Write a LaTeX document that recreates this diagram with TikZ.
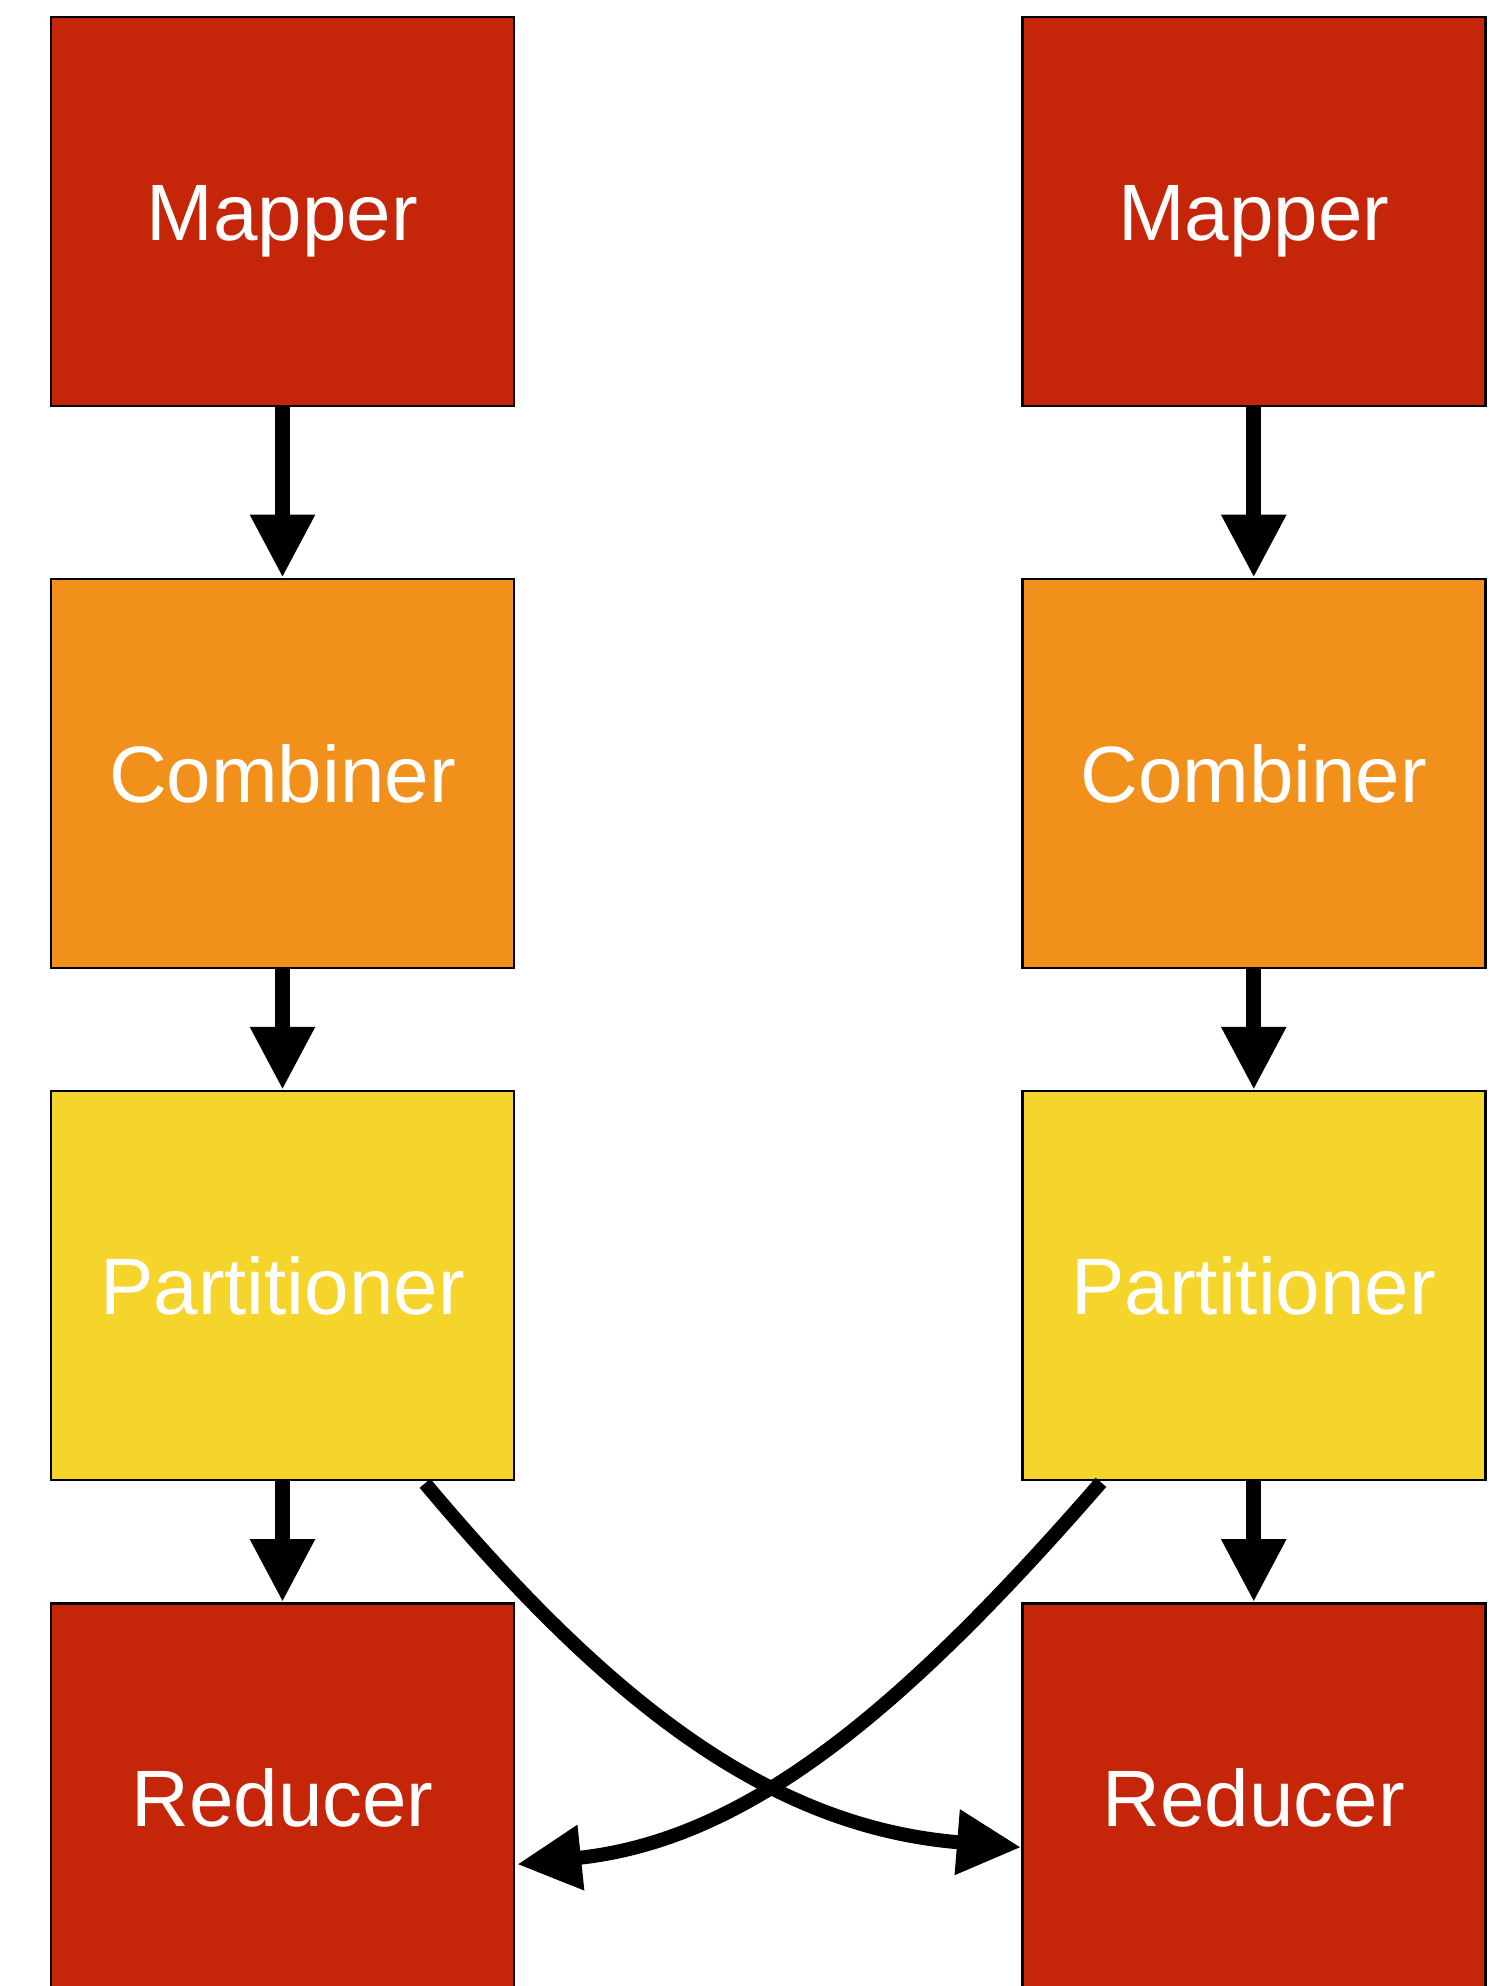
\documentclass[tikz,border=0pt]{standalone}
\usepackage{fontspec}
\setmainfont{Liberation Sans}
\usetikzlibrary{arrows.meta,calc}

\definecolor{mapred}{RGB}{197,37,8}
\definecolor{combineorange}{RGB}{242,144,28}
\definecolor{partyellow}{RGB}{245,212,44}

\tikzset{
  stage/.style={draw=black, line width=2.5pt, minimum width=463pt,
    minimum height=389pt, inner sep=0pt, text=white,
    font=\fontsize{80}{92}\selectfont, text height=57.3pt, text depth=0pt},
  flow/.style={line width=15pt, -{Triangle[length=63pt,width=61pt]}},
  shuffle/.style={line width=14pt, -{Triangle[length=64pt,width=62pt]}}
}

\begin{document}
\begin{tikzpicture}[x=1pt,y=1pt]
  \useasboundingbox (0,0) rectangle (1490,-1986);
  \clip (0,0) rectangle (1490,-1986);

  % left pipeline
  \node[stage, fill=mapred]         (mL) at (282.5,-211.45)  {Mapper};
  \node[stage, fill=combineorange]  (cL) at (282.5,-773.35)  {Combiner};
  \node[stage, fill=partyellow]     (pL) at (282.5,-1285.55) {Partitioner};
  \node[stage, fill=mapred]         (rL) at (282.5,-1797.8)  {Reducer};

  % right pipeline
  \node[stage, fill=mapred]         (mR) at (1253.75,-211.45)  {Mapper};
  \node[stage, fill=combineorange]  (cR) at (1253.75,-773.35)  {Combiner};
  \node[stage, fill=partyellow]     (pR) at (1253.75,-1285.55) {Partitioner};
  \node[stage, fill=mapred]         (rR) at (1253.75,-1797.8)  {Reducer};

  % straight hand-offs within each pipeline
  \draw[flow] (mL.south) -- (cL.north);
  \draw[flow] (cL.south) -- (pL.north);
  \draw[flow] (pL.south) -- (rL.north);
  \draw[flow] (mR.south) -- (cR.north);
  \draw[flow] (cR.south) -- (pR.north);
  \draw[flow] (pR.south) -- (rR.north);

  % crossing shuffle edges
  \coordinate (sL) at ([xshift=142.5pt,yshift=-2pt]pL.south);
  \coordinate (sR) at ([xshift=-152.75pt,yshift=-1pt]pR.south);
  \coordinate (eR) at ([yshift=-49.5pt]rR.west);
  \coordinate (eL) at ([xshift=2pt,yshift=-66.5pt]rL.east);
  \draw[shuffle] (sL) .. controls +(-50:290) and +(175.4:250) .. (eR);
  \draw[shuffle] (sR) .. controls +(229:305) and +(6:230) .. (eL);
\end{tikzpicture}
\end{document}
